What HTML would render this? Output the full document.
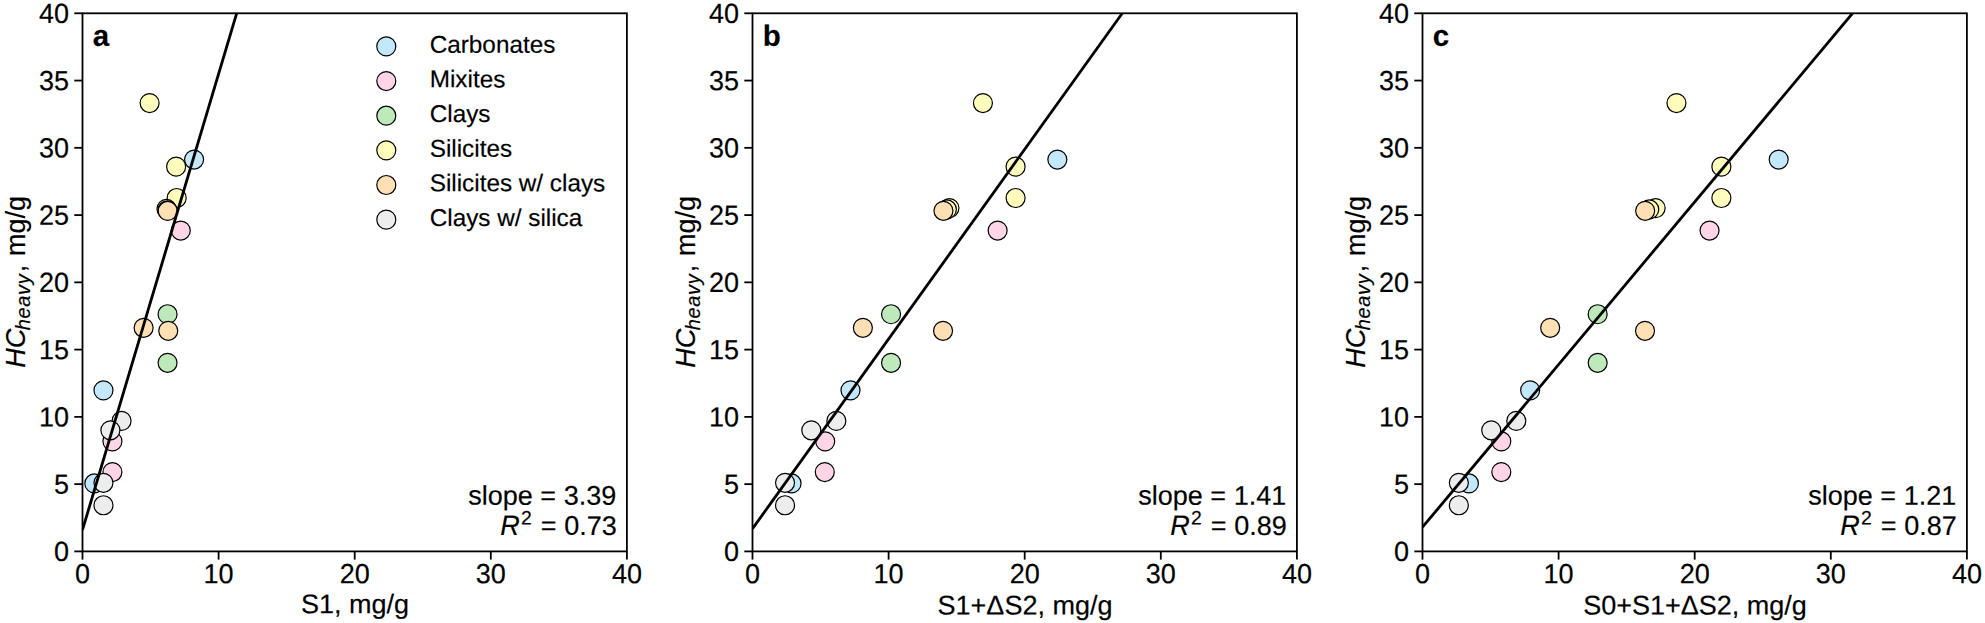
<!DOCTYPE html>
<html lang="en"><head><meta charset="utf-8"><title>HC heavy vs pyrolysis parameters</title>
<style>html,body{margin:0;padding:0;background:#fff}body{width:1985px;height:623px;overflow:hidden}svg{display:block}text{font-family:"Liberation Sans",sans-serif;font-size:27px;fill:#000;stroke:#000;stroke-width:0.18px}.sp{fill:none;stroke:#000;stroke-width:1.8}.tk{stroke:#000;stroke-width:1.8}.ln{stroke:#000;stroke-width:2.8;fill:none}.pt{stroke:#000;stroke-width:1.2}.i{font-style:italic}.b{font-weight:bold}.m{text-anchor:middle}.e{text-anchor:end}
.car{fill:#c3e8fb}
.mix{fill:#fdd5e7}
.cla{fill:#bde9bb}
.sil{fill:#fffcbc}
.swc{fill:#fee0b4}
.cws{fill:#ededed}
</style></head><body>
<svg width="1985" height="623" viewBox="0 0 1985 623">
<rect width="1985" height="623" fill="#fff"/>
<g id="panel-a">
<clipPath id="cpa"><rect x="82.5" y="13.3" width="544.4" height="538.1"/></clipPath>
<g clip-path="url(#cpa)">
<circle class="pt car" cx="194.1" cy="159.53" r="9.5"/>
<circle class="pt car" cx="103.46" cy="390.37" r="9.5"/>
<circle class="pt car" cx="94.34" cy="483.46" r="9.5"/>
<circle class="pt mix" cx="180.76" cy="230.56" r="9.5"/>
<circle class="pt mix" cx="112.44" cy="441.36" r="9.5"/>
<circle class="pt mix" cx="112.44" cy="472.03" r="9.5"/>
<circle class="pt cla" cx="167.56" cy="314.23" r="9.5"/>
<circle class="pt cla" cx="167.56" cy="362.8" r="9.5"/>
<circle class="pt sil" cx="149.6" cy="103.03" r="9.5"/>
<circle class="pt sil" cx="176.14" cy="166.66" r="9.5"/>
<circle class="pt sil" cx="176.68" cy="198" r="9.5"/>
<circle class="pt sil" cx="166.47" cy="208.9" r="9.5"/>
<circle class="pt sil" cx="167.43" cy="210.24" r="9.5"/>
<circle class="pt swc" cx="167.7" cy="210.92" r="9.5"/>
<circle class="pt swc" cx="143.61" cy="327.82" r="9.5"/>
<circle class="pt swc" cx="168.24" cy="330.78" r="9.5"/>
<circle class="pt cws" cx="121.56" cy="420.91" r="9.5"/>
<circle class="pt cws" cx="110.4" cy="430.33" r="9.5"/>
<circle class="pt cws" cx="103.46" cy="482.79" r="9.5"/>
<circle class="pt cws" cx="103.46" cy="505.26" r="9.5"/>
<line class="ln" x1="82.5" y1="529.88" x2="236.67" y2="13.3"/>
</g>
<line class="tk" x1="74.3" y1="551.4" x2="82.5" y2="551.4"/>
<text transform="translate(69 561.1) rotate(.03) scale(1 1.03)" class="e">0</text>
<line class="tk" x1="74.3" y1="484.14" x2="82.5" y2="484.14"/>
<text transform="translate(69 493.84) rotate(.03) scale(1 1.03)" class="e">5</text>
<line class="tk" x1="74.3" y1="416.88" x2="82.5" y2="416.88"/>
<text transform="translate(69 426.57) rotate(.03) scale(1 1.03)" class="e">10</text>
<line class="tk" x1="74.3" y1="349.61" x2="82.5" y2="349.61"/>
<text transform="translate(69 359.31) rotate(.03) scale(1 1.03)" class="e">15</text>
<line class="tk" x1="74.3" y1="282.35" x2="82.5" y2="282.35"/>
<text transform="translate(69 292.05) rotate(.03) scale(1 1.03)" class="e">20</text>
<line class="tk" x1="74.3" y1="215.09" x2="82.5" y2="215.09"/>
<text transform="translate(69 224.79) rotate(.03) scale(1 1.03)" class="e">25</text>
<line class="tk" x1="74.3" y1="147.82" x2="82.5" y2="147.82"/>
<text transform="translate(69 157.52) rotate(.03) scale(1 1.03)" class="e">30</text>
<line class="tk" x1="74.3" y1="80.56" x2="82.5" y2="80.56"/>
<text transform="translate(69 90.26) rotate(.03) scale(1 1.03)" class="e">35</text>
<line class="tk" x1="74.3" y1="13.3" x2="82.5" y2="13.3"/>
<text transform="translate(69 23) rotate(.03) scale(1 1.03)" class="e">40</text>
<line class="tk" x1="82.5" y1="551.4" x2="82.5" y2="559.6"/>
<text transform="translate(82.5 583.2) rotate(.03) scale(1 1.03)" class="m">0</text>
<line class="tk" x1="218.6" y1="551.4" x2="218.6" y2="559.6"/>
<text transform="translate(218.6 583.2) rotate(.03) scale(1 1.03)" class="m">10</text>
<line class="tk" x1="354.7" y1="551.4" x2="354.7" y2="559.6"/>
<text transform="translate(354.7 583.2) rotate(.03) scale(1 1.03)" class="m">20</text>
<line class="tk" x1="490.8" y1="551.4" x2="490.8" y2="559.6"/>
<text transform="translate(490.8 583.2) rotate(.03) scale(1 1.03)" class="m">30</text>
<line class="tk" x1="626.9" y1="551.4" x2="626.9" y2="559.6"/>
<text transform="translate(626.9 583.2) rotate(.03) scale(1 1.03)" class="m">40</text>
<rect class="sp" x="82.5" y="13.3" width="544.4" height="538.1"/>
<text transform="translate(355 613.3) rotate(.03)" class="m">S1, mg/g</text>
<g transform="translate(24.5,282.35) rotate(-90)"><text class="i" transform="scale(1 1.04)" x="-85.5">HC</text><text class="i" style="font-size:20px;letter-spacing:0.7px" x="-48" y="5.3">heavy</text><text x="10">, <tspan dx="1.3">mg/g</tspan></text></g>
<text transform="translate(92.7 45.7) rotate(.03)" class="b" style="font-size:29.5px">a</text>
<text transform="translate(616.2 504.7) rotate(.03)" class="e">slope = 3.39</text>
<text transform="translate(500.3 534.9) rotate(.03) scale(1 1.04)" class="i">R</text><text transform="translate(520.9 524.6) rotate(.03)" style="font-size:19.4px">2</text><text transform="translate(616.7 534.9) rotate(.03)" class="e">= 0.73</text>
<circle class="pt car" cx="386.3" cy="46.4" r="9.5"/>
<text transform="translate(429.7 52.7) rotate(.03)" style="font-size:24.3px">Carbonates</text>
<circle class="pt mix" cx="386.3" cy="81.05" r="9.5"/>
<text transform="translate(429.7 87.35) rotate(.03)" style="font-size:24.3px">Mixites</text>
<circle class="pt cla" cx="386.3" cy="115.7" r="9.5"/>
<text transform="translate(429.7 122) rotate(.03)" style="font-size:24.3px">Clays</text>
<circle class="pt sil" cx="386.3" cy="150.35" r="9.5"/>
<text transform="translate(429.7 156.65) rotate(.03)" style="font-size:24.3px">Silicites</text>
<circle class="pt swc" cx="386.3" cy="185" r="9.5"/>
<text transform="translate(429.7 191.3) rotate(.03)" style="font-size:24.3px">Silicites w/ clays</text>
<circle class="pt cws" cx="386.3" cy="219.65" r="9.5"/>
<text transform="translate(429.7 225.95) rotate(.03)" style="font-size:24.3px">Clays w/ silica</text>
</g>
<g id="panel-b">
<clipPath id="cpb"><rect x="752.5" y="13.3" width="544.4" height="538.1"/></clipPath>
<g clip-path="url(#cpb)">
<circle class="pt car" cx="1057.36" cy="159.53" r="9.5"/>
<circle class="pt car" cx="850.49" cy="390.37" r="9.5"/>
<circle class="pt car" cx="791.56" cy="483.46" r="9.5"/>
<circle class="pt mix" cx="997.62" cy="230.56" r="9.5"/>
<circle class="pt mix" cx="825.18" cy="441.36" r="9.5"/>
<circle class="pt mix" cx="824.77" cy="472.03" r="9.5"/>
<circle class="pt cla" cx="891.05" cy="314.23" r="9.5"/>
<circle class="pt cla" cx="891.05" cy="362.8" r="9.5"/>
<circle class="pt sil" cx="982.92" cy="103.03" r="9.5"/>
<circle class="pt sil" cx="1015.58" cy="166.66" r="9.5"/>
<circle class="pt sil" cx="1015.58" cy="198" r="9.5"/>
<circle class="pt sil" cx="949.44" cy="208.09" r="9.5"/>
<circle class="pt sil" cx="946.85" cy="209.44" r="9.5"/>
<circle class="pt swc" cx="943.45" cy="210.78" r="9.5"/>
<circle class="pt swc" cx="862.88" cy="327.82" r="9.5"/>
<circle class="pt swc" cx="943.04" cy="330.78" r="9.5"/>
<circle class="pt cws" cx="836.34" cy="420.91" r="9.5"/>
<circle class="pt cws" cx="811.3" cy="430.33" r="9.5"/>
<circle class="pt cws" cx="785.03" cy="482.79" r="9.5"/>
<circle class="pt cws" cx="785.03" cy="505.26" r="9.5"/>
<line class="ln" x1="752.5" y1="528.67" x2="1122.29" y2="13.3"/>
</g>
<line class="tk" x1="744.3" y1="551.4" x2="752.5" y2="551.4"/>
<text transform="translate(739 561.1) rotate(.03) scale(1 1.03)" class="e">0</text>
<line class="tk" x1="744.3" y1="484.14" x2="752.5" y2="484.14"/>
<text transform="translate(739 493.84) rotate(.03) scale(1 1.03)" class="e">5</text>
<line class="tk" x1="744.3" y1="416.88" x2="752.5" y2="416.88"/>
<text transform="translate(739 426.57) rotate(.03) scale(1 1.03)" class="e">10</text>
<line class="tk" x1="744.3" y1="349.61" x2="752.5" y2="349.61"/>
<text transform="translate(739 359.31) rotate(.03) scale(1 1.03)" class="e">15</text>
<line class="tk" x1="744.3" y1="282.35" x2="752.5" y2="282.35"/>
<text transform="translate(739 292.05) rotate(.03) scale(1 1.03)" class="e">20</text>
<line class="tk" x1="744.3" y1="215.09" x2="752.5" y2="215.09"/>
<text transform="translate(739 224.79) rotate(.03) scale(1 1.03)" class="e">25</text>
<line class="tk" x1="744.3" y1="147.82" x2="752.5" y2="147.82"/>
<text transform="translate(739 157.52) rotate(.03) scale(1 1.03)" class="e">30</text>
<line class="tk" x1="744.3" y1="80.56" x2="752.5" y2="80.56"/>
<text transform="translate(739 90.26) rotate(.03) scale(1 1.03)" class="e">35</text>
<line class="tk" x1="744.3" y1="13.3" x2="752.5" y2="13.3"/>
<text transform="translate(739 23) rotate(.03) scale(1 1.03)" class="e">40</text>
<line class="tk" x1="752.5" y1="551.4" x2="752.5" y2="559.6"/>
<text transform="translate(752.5 583.2) rotate(.03) scale(1 1.03)" class="m">0</text>
<line class="tk" x1="888.6" y1="551.4" x2="888.6" y2="559.6"/>
<text transform="translate(888.6 583.2) rotate(.03) scale(1 1.03)" class="m">10</text>
<line class="tk" x1="1024.7" y1="551.4" x2="1024.7" y2="559.6"/>
<text transform="translate(1024.7 583.2) rotate(.03) scale(1 1.03)" class="m">20</text>
<line class="tk" x1="1160.8" y1="551.4" x2="1160.8" y2="559.6"/>
<text transform="translate(1160.8 583.2) rotate(.03) scale(1 1.03)" class="m">30</text>
<line class="tk" x1="1296.9" y1="551.4" x2="1296.9" y2="559.6"/>
<text transform="translate(1296.9 583.2) rotate(.03) scale(1 1.03)" class="m">40</text>
<rect class="sp" x="752.5" y="13.3" width="544.4" height="538.1"/>
<text transform="translate(1025 614.5) rotate(.03)" class="m">S1+ΔS2, mg/g</text>
<g transform="translate(694.5,282.35) rotate(-90)"><text class="i" transform="scale(1 1.04)" x="-85.5">HC</text><text class="i" style="font-size:20px;letter-spacing:0.7px" x="-48" y="5.3">heavy</text><text x="10">, <tspan dx="1.3">mg/g</tspan></text></g>
<text transform="translate(762.7 45.7) rotate(.03)" class="b" style="font-size:29.5px">b</text>
<text transform="translate(1286.2 504.7) rotate(.03)" class="e">slope = 1.41</text>
<text transform="translate(1170.3 534.9) rotate(.03) scale(1 1.04)" class="i">R</text><text transform="translate(1190.9 524.6) rotate(.03)" style="font-size:19.4px">2</text><text transform="translate(1286.7 534.9) rotate(.03)" class="e">= 0.89</text>
</g>
<g id="panel-c">
<clipPath id="cpc"><rect x="1422.5" y="13.3" width="544.4" height="538.1"/></clipPath>
<g clip-path="url(#cpc)">
<circle class="pt car" cx="1778.67" cy="159.53" r="9.5"/>
<circle class="pt car" cx="1530.16" cy="390.37" r="9.5"/>
<circle class="pt car" cx="1468.91" cy="483.46" r="9.5"/>
<circle class="pt mix" cx="1709.53" cy="230.56" r="9.5"/>
<circle class="pt mix" cx="1501.3" cy="441.36" r="9.5"/>
<circle class="pt mix" cx="1501.3" cy="472.03" r="9.5"/>
<circle class="pt cla" cx="1597.66" cy="314.23" r="9.5"/>
<circle class="pt cla" cx="1597.66" cy="362.8" r="9.5"/>
<circle class="pt sil" cx="1676.46" cy="103.03" r="9.5"/>
<circle class="pt sil" cx="1721.38" cy="166.66" r="9.5"/>
<circle class="pt sil" cx="1721.38" cy="198" r="9.5"/>
<circle class="pt sil" cx="1655.64" cy="208.09" r="9.5"/>
<circle class="pt sil" cx="1649.24" cy="209.44" r="9.5"/>
<circle class="pt swc" cx="1645.16" cy="210.78" r="9.5"/>
<circle class="pt swc" cx="1550.16" cy="327.82" r="9.5"/>
<circle class="pt swc" cx="1645.02" cy="330.78" r="9.5"/>
<circle class="pt cws" cx="1516.27" cy="420.91" r="9.5"/>
<circle class="pt cws" cx="1491.23" cy="430.33" r="9.5"/>
<circle class="pt cws" cx="1458.84" cy="482.79" r="9.5"/>
<circle class="pt cws" cx="1458.84" cy="505.26" r="9.5"/>
<line class="ln" x1="1422.5" y1="527.19" x2="1852.53" y2="13.3"/>
</g>
<line class="tk" x1="1414.3" y1="551.4" x2="1422.5" y2="551.4"/>
<text transform="translate(1409 561.1) rotate(.03) scale(1 1.03)" class="e">0</text>
<line class="tk" x1="1414.3" y1="484.14" x2="1422.5" y2="484.14"/>
<text transform="translate(1409 493.84) rotate(.03) scale(1 1.03)" class="e">5</text>
<line class="tk" x1="1414.3" y1="416.88" x2="1422.5" y2="416.88"/>
<text transform="translate(1409 426.57) rotate(.03) scale(1 1.03)" class="e">10</text>
<line class="tk" x1="1414.3" y1="349.61" x2="1422.5" y2="349.61"/>
<text transform="translate(1409 359.31) rotate(.03) scale(1 1.03)" class="e">15</text>
<line class="tk" x1="1414.3" y1="282.35" x2="1422.5" y2="282.35"/>
<text transform="translate(1409 292.05) rotate(.03) scale(1 1.03)" class="e">20</text>
<line class="tk" x1="1414.3" y1="215.09" x2="1422.5" y2="215.09"/>
<text transform="translate(1409 224.79) rotate(.03) scale(1 1.03)" class="e">25</text>
<line class="tk" x1="1414.3" y1="147.82" x2="1422.5" y2="147.82"/>
<text transform="translate(1409 157.52) rotate(.03) scale(1 1.03)" class="e">30</text>
<line class="tk" x1="1414.3" y1="80.56" x2="1422.5" y2="80.56"/>
<text transform="translate(1409 90.26) rotate(.03) scale(1 1.03)" class="e">35</text>
<line class="tk" x1="1414.3" y1="13.3" x2="1422.5" y2="13.3"/>
<text transform="translate(1409 23) rotate(.03) scale(1 1.03)" class="e">40</text>
<line class="tk" x1="1422.5" y1="551.4" x2="1422.5" y2="559.6"/>
<text transform="translate(1422.5 583.2) rotate(.03) scale(1 1.03)" class="m">0</text>
<line class="tk" x1="1558.6" y1="551.4" x2="1558.6" y2="559.6"/>
<text transform="translate(1558.6 583.2) rotate(.03) scale(1 1.03)" class="m">10</text>
<line class="tk" x1="1694.7" y1="551.4" x2="1694.7" y2="559.6"/>
<text transform="translate(1694.7 583.2) rotate(.03) scale(1 1.03)" class="m">20</text>
<line class="tk" x1="1830.8" y1="551.4" x2="1830.8" y2="559.6"/>
<text transform="translate(1830.8 583.2) rotate(.03) scale(1 1.03)" class="m">30</text>
<line class="tk" x1="1966.9" y1="551.4" x2="1966.9" y2="559.6"/>
<text transform="translate(1966.9 583.2) rotate(.03) scale(1 1.03)" class="m">40</text>
<rect class="sp" x="1422.5" y="13.3" width="544.4" height="538.1"/>
<text transform="translate(1695 614.5) rotate(.03)" class="m">S0+S1+ΔS2, mg/g</text>
<g transform="translate(1364.5,282.35) rotate(-90)"><text class="i" transform="scale(1 1.04)" x="-85.5">HC</text><text class="i" style="font-size:20px;letter-spacing:0.7px" x="-48" y="5.3">heavy</text><text x="10">, <tspan dx="1.3">mg/g</tspan></text></g>
<text transform="translate(1432.7 45.7) rotate(.03)" class="b" style="font-size:29.5px">c</text>
<text transform="translate(1956.2 504.7) rotate(.03)" class="e">slope = 1.21</text>
<text transform="translate(1840.3 534.9) rotate(.03) scale(1 1.04)" class="i">R</text><text transform="translate(1860.9 524.6) rotate(.03)" style="font-size:19.4px">2</text><text transform="translate(1956.7 534.9) rotate(.03)" class="e">= 0.87</text>
</g>
</svg></body></html>
